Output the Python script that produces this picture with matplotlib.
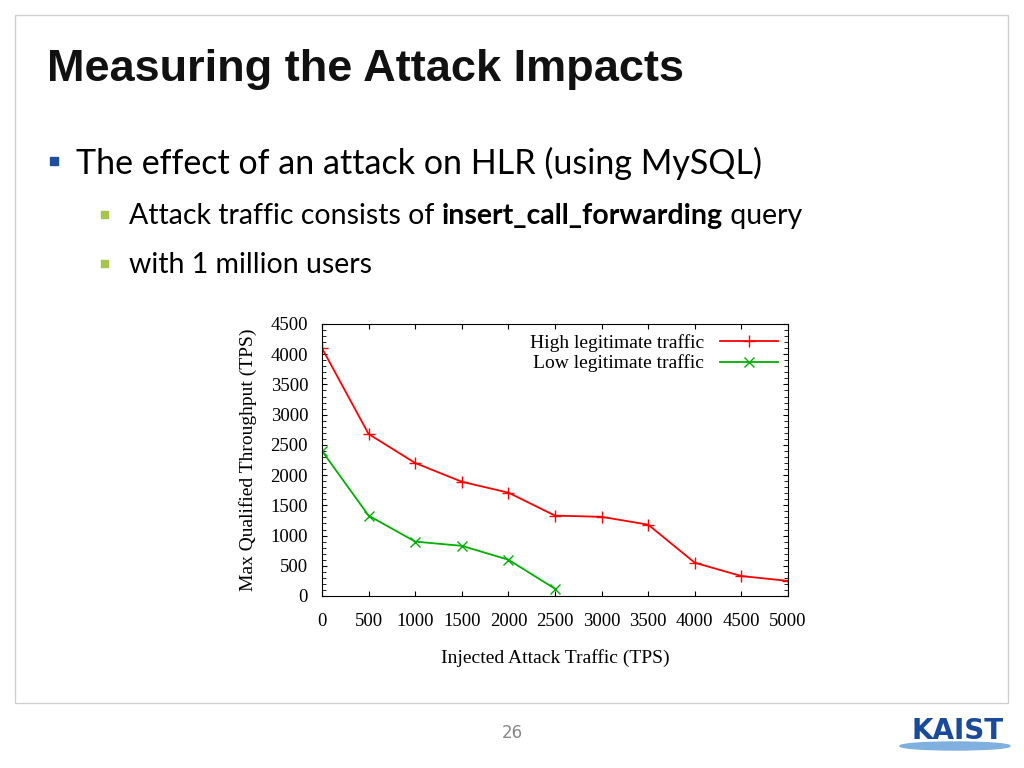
import matplotlib
matplotlib.use("Agg")
import matplotlib.pyplot as plt
from matplotlib.patches import Rectangle, Ellipse

attack = [0, 500, 1000, 1500, 2000, 2500, 3000, 3500, 4000, 4500, 5000]
high = [4100, 2680, 2200, 1890, 1710, 1330, 1310, 1180, 550, 330, 250]
attack_low = [0, 500, 1000, 1500, 2000, 2500]
low = [2400, 1330, 900, 830, 600, 120]
yticks = [0, 500, 1000, 1500, 2000, 2500, 3000, 3500, 4000, 4500]

W, H = 1024, 768
fig = plt.figure(figsize=(W/100, H/100), dpi=100)
bg = fig.add_axes([0, 0, 1, 1]); bg.set_xlim(0, W); bg.set_ylim(H, 0); bg.axis("off")
bg.add_patch(Rectangle((15, 15), 993, 688, fill=False, ec="#cfcfcf", lw=1))
bg.text(47, 69, "Measuring the Attack Impacts", fontsize=32.5, fontweight="bold",
        family="Liberation Sans", va="center", color="#111111")
bg.add_patch(Rectangle((50, 157), 8, 8, color="#1f4e9a"))
bg.text(76, 163, "The effect of an attack on HLR (using MySQL)", fontsize=24.5, family="Lato", va="center")
for y in (215, 264):
    bg.add_patch(Rectangle((101, y - 4), 7, 7, color="#a6c64a"))
r = fig.canvas.get_renderer()
x = 129
for s, w in [("Attack traffic consists of ", "normal"), ("insert_call_forwarding", "bold"), (" query", "normal")]:
    t = bg.text(x, 216, s, fontsize=20.5, family="Lato", va="center", fontweight=w)
    x += t.get_window_extent(r).width
bg.text(129, 265, "with 1 million users", fontsize=20.5, family="Lato", va="center")
bg.text(512, 733, "26", fontsize=12, color="#888888", ha="center", va="center")
bg.text(958, 731, "KAIST", fontsize=20, fontweight="bold", color="#1a4a9a", ha="center", va="center", family="DejaVu Sans")
bg.add_patch(Ellipse((955, 746), 110, 8, color="#7fb0e0"))

ax = fig.add_axes([322/W, 1 - 596/H, (788-322)/W, (596-324)/H])
ax.plot(attack, high, color="#ff0000", marker="+", ms=8, lw=1.3, label="High legitimate traffic")
ax.plot(attack_low, low, color="#00b000", marker="x", ms=7, lw=1.3, label="Low legitimate traffic")
ax.set_xlim(0, 5000); ax.set_ylim(0, 4500)
ax.set_xticks(attack); ax.set_yticks(yticks)
ax.set_yticks(range(0, 4501, 100), minor=True)
ax.tick_params(direction="in", top=True, right=True, labelsize=13.5, which="both")
ax.tick_params(axis="x", pad=12)
ax.tick_params(axis="y", pad=10)
ax.tick_params(which="minor", length=3)
for lab in ax.get_xticklabels() + ax.get_yticklabels():
    lab.set_family("Liberation Serif")
ax.set_xlabel("Injected Attack Traffic (TPS)", family="Liberation Serif", fontsize=14, labelpad=14)
ax.set_ylabel("Max Qualified Throughput (TPS)", family="Liberation Serif", fontsize=14, labelpad=10)
leg = ax.legend(loc="upper right", frameon=False, markerfirst=False, prop={"family": "Liberation Serif", "size": 14},
                handlelength=3, borderaxespad=0.1, labelspacing=0.15)
fig.savefig("out.png", dpi=100)
